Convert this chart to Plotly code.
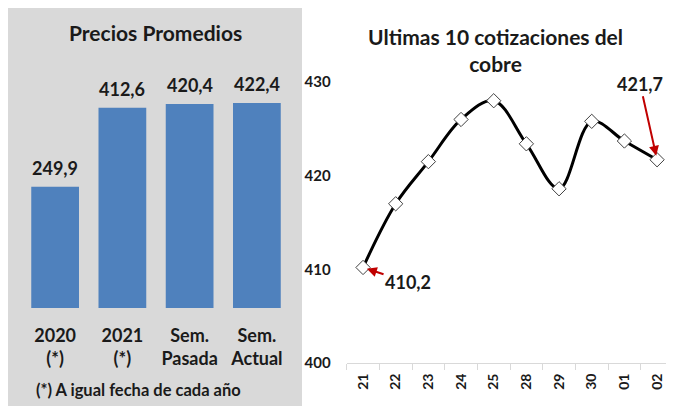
import plotly.graph_objects as go

# Left panel data
bar_categories = ["2020<br>(*)", "2021<br>(*)", "Sem.<br>Pasada", "Sem.<br>Actual"]
bar_values = [249.9, 412.6, 420.4, 422.4]

# Right panel data
days = ["21", "22", "23", "24", "25", "28", "29", "30", "01", "02"]
prices = [410.2, 417.0, 421.5, 426.0, 428.0, 423.4, 418.6, 425.8, 423.7, 421.7]
y_ticks = [400, 410, 420, 430]

# page body has an 8px margin: figure is shifted by 8px, so size it to end at the window edge
OFF = 8
FW, FH = 674 - OFF, 406 - OFF
FONT = "Lato"
TXT = "#1a1a1a"

def px(x):
    return (x - OFF) / FW

def py(y):
    return 1 - (y - OFF) / FH

def fmt(v):
    return f"{v:.1f}".replace(".", ",")

fig = go.Figure()

fig.add_trace(go.Bar(
    x=bar_categories, y=bar_values, marker=dict(color="#4f81bd", line=dict(width=0)),
    xaxis="x", yaxis="y", showlegend=False, hoverinfo="skip",
))

fig.add_trace(go.Scatter(
    x=days, y=prices, mode="lines+markers", xaxis="x2", yaxis="y2",
    line=dict(color="black", width=3, shape="spline", smoothing=1.0),
    marker=dict(symbol="diamond", size=11, color="white", line=dict(color="#404040", width=1)),
    showlegend=False, hoverinfo="skip", cliponaxis=False,
))

annotations = []
for i, v in enumerate(bar_values):
    annotations.append(dict(
        x=i, y=v, xref="x", yref="y", text=f"<b>{fmt(v)}</b>", showarrow=False,
        yanchor="bottom", yshift=6, font=dict(family=FONT, size=18, color=TXT),
    ))

last = len(days) - 1
annotations.append(dict(
    x=last, y=prices[last], xref="x2", yref="y2", text=f"<b>{fmt(prices[last])}</b>",
    showarrow=True, ax=-17, ay=-76, arrowcolor="#c00000", arrowhead=2, arrowsize=1,
    arrowwidth=2, standoff=4, font=dict(family=FONT, size=18, color=TXT),
))
annotations.append(dict(
    x=0, y=prices[0], xref="x2", yref="y2", text=f"<b>{fmt(prices[0])}</b>",
    showarrow=True, ax=45, ay=15, arrowcolor="#c00000", arrowhead=2, arrowsize=1,
    arrowwidth=2, standoff=4, font=dict(family=FONT, size=18, color=TXT),
))

annotations.append(dict(
    x=px(155), y=py(32), xref="paper", yref="paper", xanchor="center", yanchor="middle",
    text="<b>Precios Promedios</b>",
    showarrow=False, font=dict(family=FONT, size=21, color=TXT),
))
annotations.append(dict(
    x=px(495), y=py(50), xref="paper", yref="paper", xanchor="center", yanchor="middle",
    text="<b>Ultimas 10 cotizaciones del<br>cobre</b>",
    showarrow=False, font=dict(family=FONT, size=21, color=TXT),
))
annotations.append(dict(
    x=px(34), y=py(390), xref="paper", yref="paper", xanchor="left", yanchor="middle",
    text="<b>(*) A igual fecha de cada año</b>",
    showarrow=False, font=dict(family=FONT, size=16.5, color=TXT),
))

fig.update_layout(
    width=FW, height=FH, margin=dict(l=0, r=0, t=0, b=0, autoexpand=False),
    paper_bgcolor="white", plot_bgcolor="rgba(0,0,0,0)",
    font=dict(family=FONT, color=TXT),
    bargap=0.29,
    shapes=[dict(type="rect", xref="paper", yref="paper", x0=px(7), x1=px(302),
                 y0=0, y1=py(6), fillcolor="#d9d9d9", line=dict(width=0), layer="below")],
    xaxis=dict(domain=[px(21.5), px(290.5)], range=[-0.5, 3.5], showline=False, ticks="",
               showgrid=False, zeroline=False, automargin=False,
               tickvals=bar_categories, ticktext=[f"<b>{c}</b>" for c in bar_categories],
               tickfont=dict(family=FONT, size=18, color=TXT), ticklabelstandoff=15),
    yaxis=dict(domain=[py(308), py(8)], range=[0, 618], visible=False,
               showgrid=False, zeroline=False, automargin=False),
    xaxis2=dict(domain=[px(346.7), px(673.4)], range=[-0.5, 9.5], anchor="y2",
                showline=True, linecolor="#d9d9d9", linewidth=1, ticks="outside",
                tickson="boundaries", ticklen=6, tickcolor="#d9d9d9", tickangle=-90,
                showgrid=False, zeroline=False, automargin=False, ticklabelstandoff=4,
                tickvals=days, ticktext=[f"<b>{d}</b>" for d in days],
                tickfont=dict(family=FONT, size=14, color=TXT)),
    yaxis2=dict(domain=[py(363), py(82)], range=[400, 430], anchor="x2",
                tickvals=y_ticks, ticktext=[f"<b>{t}</b>" for t in y_ticks],
                showline=False, showgrid=False, zeroline=False, ticks="", automargin=False,
                ticklabelstandoff=15,
                tickfont=dict(family=FONT, size=15, color=TXT)),
    annotations=annotations,
)

fig.write_html("out.html")
